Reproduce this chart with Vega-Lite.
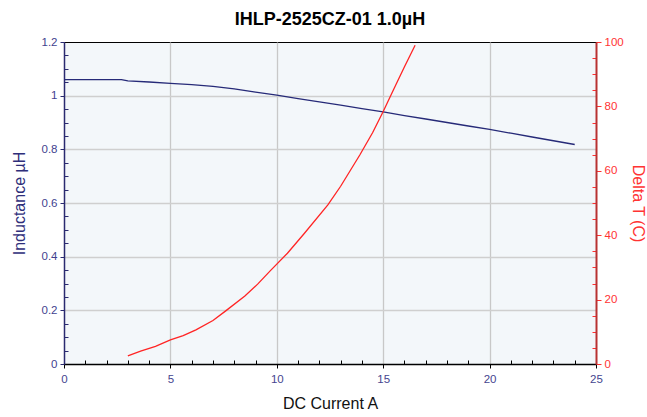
{
  "$schema": "https://vega.github.io/schema/vega-lite/v6.json",
  "width": 532,
  "height": 322,
  "autosize": {"type": "none"},
  "padding": {"left": 64, "top": 42, "right": 51, "bottom": 53},
  "background": "white",
  "title": {"text": "IHLP-2525CZ-01 1.0µH", "font": "Liberation Sans", "fontSize": 18, "fontWeight": "bold", "color": "#000000", "anchor": "middle", "offset": 7},
  "config": {
    "view": {"fill": "#f3f7fa", "stroke": "#000000", "strokeWidth": 1},
    "axis": {"labelFont": "Liberation Sans", "titleFont": "Liberation Sans", "titleFontWeight": "normal", "labelOverlap": false, "labelFlush": false}
  },
  "encoding": {
    "x": {
      "field": "current", "type": "quantitative",
      "scale": {"domain": [0, 25], "nice": false},
      "axis": {
        "title": "DC Current A", "titleColor": "#111111", "titleFontSize": 16, "titlePadding": 11,
        "values": [0,1,2,3,4,5,6,7,8,9,10,11,12,13,14,15,16,17,18,19,20,21,22,23,24,25],
        "labelExpr": "datum.value % 5 === 0 ? format(datum.value, '~g') : ''",
        "labelColor": "#45458f", "labelFontSize": 11.5, "labelPadding": 5,
        "domainColor": "#000000", "domainWidth": 1.5,
        "tickColor": "#000000",
        "tickSize": {"condition": {"test": "datum.value % 5 === 0", "value": 4}, "value": -4},
        "grid": true, "gridColor": "#c8c8c8", "gridWidth": 1.3,
        "gridOpacity": {"condition": {"test": "datum.value % 5 === 0 && datum.value > 0 && datum.value < 25", "value": 1}, "value": 0}
      }
    }
  },
  "layer": [
    {
      "data": {"values": [
        {"current": 0, "inductance": 1.06},
        {"current": 1, "inductance": 1.06},
        {"current": 2, "inductance": 1.06},
        {"current": 2.7, "inductance": 1.06},
        {"current": 3, "inductance": 1.055},
        {"current": 4, "inductance": 1.051},
        {"current": 5, "inductance": 1.046},
        {"current": 6, "inductance": 1.041},
        {"current": 7, "inductance": 1.035},
        {"current": 8, "inductance": 1.025},
        {"current": 9, "inductance": 1.013},
        {"current": 10, "inductance": 1.002},
        {"current": 11, "inductance": 0.989},
        {"current": 12, "inductance": 0.977},
        {"current": 13, "inductance": 0.965},
        {"current": 14, "inductance": 0.952},
        {"current": 15, "inductance": 0.94},
        {"current": 16, "inductance": 0.926},
        {"current": 17, "inductance": 0.913},
        {"current": 18, "inductance": 0.9},
        {"current": 19, "inductance": 0.887},
        {"current": 20, "inductance": 0.874},
        {"current": 21, "inductance": 0.86},
        {"current": 22, "inductance": 0.846},
        {"current": 23, "inductance": 0.832},
        {"current": 24, "inductance": 0.818}
      ]},
      "mark": {"type": "line", "color": "#262a78", "strokeWidth": 1.3},
      "encoding": {
        "y": {
          "field": "inductance", "type": "quantitative",
          "scale": {"domain": [0, 1.2], "nice": false},
          "axis": {
            "title": "Inductance µH", "titleColor": "#2e2e7a", "titleFontSize": 16, "titlePadding": 14,
            "values": [0,0.05,0.1,0.15,0.2,0.25,0.3,0.35,0.4,0.45,0.5,0.55,0.6,0.65,0.7,0.75,0.8,0.85,0.9,0.95,1,1.05,1.1,1.15,1.2],
            "labelExpr": "round(datum.value * 100) % 20 === 0 ? format(datum.value, '~g') : ''",
            "labelColor": "#3f3f8f", "labelFontSize": 11.5, "labelPadding": 3,
            "domainColor": "#2a2a70", "domainWidth": 1.5,
            "tickColor": "#2a2a70",
            "tickSize": {"condition": {"test": "round(datum.value * 100) % 20 === 0", "value": 4}, "value": -4},
            "grid": true, "gridColor": "#cfcfcf", "gridWidth": 1.5,
            "gridOpacity": {"condition": {"test": "round(datum.value * 100) % 20 === 0 && datum.value > 0 && datum.value < 1.2", "value": 1}, "value": 0}
          }
        }
      }
    },
    {
      "data": {"values": [
        {"current": 3, "deltaT": 2.5},
        {"current": 3.6, "deltaT": 4.0},
        {"current": 4.3, "deltaT": 5.5},
        {"current": 5, "deltaT": 7.5},
        {"current": 5.6, "deltaT": 8.8},
        {"current": 6.2, "deltaT": 10.6},
        {"current": 7, "deltaT": 13.5},
        {"current": 7.6, "deltaT": 16.5},
        {"current": 8.5, "deltaT": 21.1},
        {"current": 9.1, "deltaT": 24.8},
        {"current": 9.7, "deltaT": 29},
        {"current": 10.5, "deltaT": 34.4},
        {"current": 11.3, "deltaT": 40.6},
        {"current": 12.4, "deltaT": 49.4},
        {"current": 13, "deltaT": 55.2},
        {"current": 13.9, "deltaT": 64.9},
        {"current": 14.5, "deltaT": 71.8},
        {"current": 15, "deltaT": 78.4},
        {"current": 15.5, "deltaT": 85.4},
        {"current": 16, "deltaT": 92.3},
        {"current": 16.5, "deltaT": 99}
      ]},
      "mark": {"type": "line", "color": "#ff2424", "strokeWidth": 1.3},
      "encoding": {
        "y": {
          "field": "deltaT", "type": "quantitative",
          "scale": {"domain": [0, 100], "nice": false},
          "axis": {
            "orient": "right",
            "title": "Delta T (C)", "titleColor": "#ff3333", "titleFontSize": 16, "titlePadding": 6,
            "values": [0,5,10,15,20,25,30,35,40,45,50,55,60,65,70,75,80,85,90,95,100],
            "labelExpr": "datum.value % 20 === 0 ? format(datum.value, '~g') : ''",
            "labelColor": "#ff3333", "labelFontSize": 11.5, "labelPadding": 3,
            "domainColor": "#b83232", "domainWidth": 2,
            "tickColor": "#ff3030",
            "tickSize": {"condition": {"test": "datum.value % 20 === 0", "value": 5}, "value": -4},
            "grid": false
          }
        }
      }
    }
  ],
  "resolve": {"scale": {"y": "independent"}}
}
